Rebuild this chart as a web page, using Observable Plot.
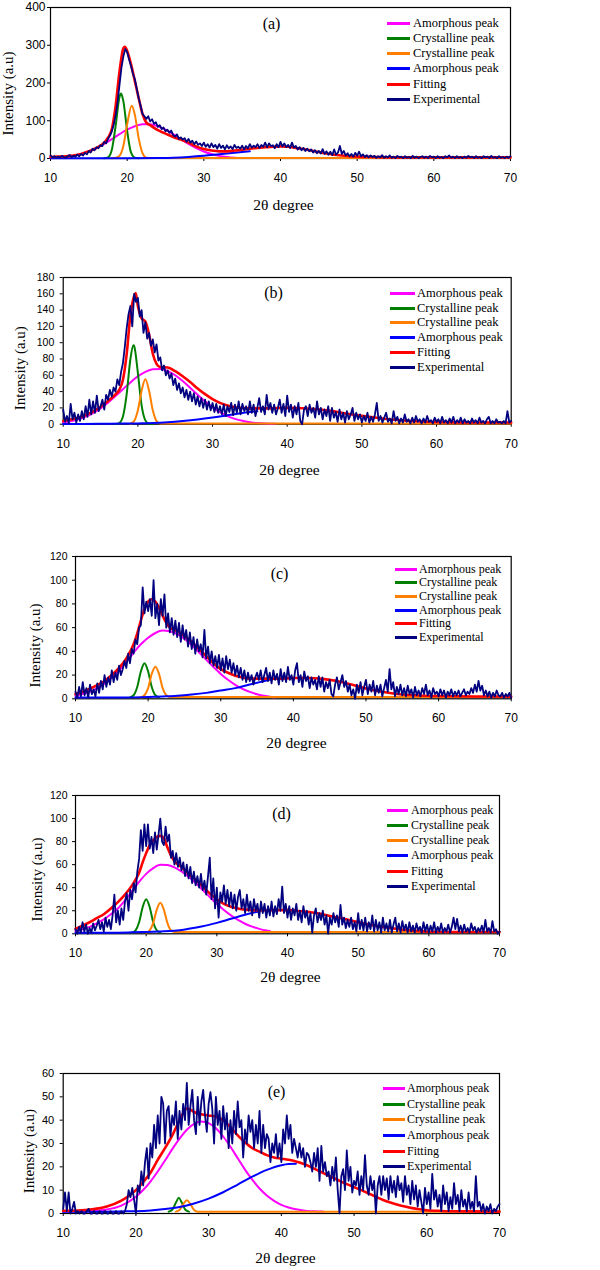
<!DOCTYPE html>
<html><head><meta charset="utf-8">
<script src="https://cdn.jsdelivr.net/npm/d3@7"></script>
<script src="https://cdn.jsdelivr.net/npm/@observablehq/plot@0.6"></script>
<style>
body{margin:0;background:#fff;}
#chart{position:relative;width:600px;height:1270px;overflow:hidden;background:#fff;}
.panel{position:absolute;left:0;}
.legend-row{position:absolute;display:flex;align-items:center;white-space:nowrap;height:16px;font-family:"Liberation Serif","Times New Roman",serif;color:#000;}
.swatch{display:inline-block;height:3px;margin-right:3px;}
</style>
</head><body>
<div id="chart"></div>
<script>
// ---------- shared ----------
const seriesNames = ["Amorphous peak","Crystalline peak","Crystalline peak","Amorphous peak","Fitting","Experimental"];
const seriesColors = ["#ff00ff","#008000","#ff8000","#0000ff","#ff0000","#000080"];
const xTicks = [10,20,30,40,50,60,70];
const twoTheta = d3.range(241).map(i => 10 + i * 0.25);
const panelLabels = ["(a)","(b)","(c)","(d)","(e)"];
const yMaxes = [400,180,120,120,60];
const yTicksA = [0,100,200,300,400];
const yTicksB = [0,20,40,60,80,100,120,140,160,180];
const yTicksC = [0,20,40,60,80,100,120];
const yTicksD = [0,20,40,60,80,100,120];
const yTicksE = [0,10,20,30,40,50,60];

// ---------- panel (a) ----------
const expA = [
8,3,6,2,5,3,7,4,2,6,9,4,7,5,10,6,12,8,15,11,
20,16,26,22,30,27,35,33,44,40,52,60,72,90,115,150,195,240,270,290,
282,262,245,225,210,185,160,140,118,112,105,112,98,104,92,96,84,88,78,82,
72,76,68,74,62,58,64,52,56,50,54,44,52,42,47,38,45,36,40,33,
42,31,38,29,40,30,36,26,38,28,34,24,35,27,32,25,36,28,31,26,
34,24,33,27,38,29,34,30,38,28,36,31,42,30,40,33,35,27,38,30,
44,32,40,30,36,28,42,29,33,24,30,22,28,20,26,19,24,16,22,14,
20,13,25,12,19,10,18,9,24,10,16,33,12,20,8,14,6,12,5,15,
7,18,6,11,4,9,3,8,4,7,2,6,3,9,2,6,3,8,2,5,
1,7,3,5,1,6,2,4,1,7,2,5,1,4,6,2,5,1,7,3,
5,1,6,2,4,1,6,3,8,2,5,1,6,2,4,1,5,2,7,3,
5,1,6,2,4,1,6,3,5,1,7,2,4,1,6,2,4,1,5,2,
6];
const fitA = [[10,4],[11,5],[12,6],[13,8],[14,12],[15,19],[16,28],[17,42],[17.5,55],[18,78],[18.5,140],[19,230],[19.5,292],[19.7,296],[20,285],[20.5,250],[21,205],[21.5,160],[22,118],[22.5,95],[23,88],[24,75],[25,66],[26,57],[27,50],[28,42],[29,32],[30,25],[31,21],[32,19],[33,19],[34,21],[35,23],[36,26],[37,28],[38,30],[39,31],[40,32],[41,31],[42,28],[43,25],[44,21],[45,17],[46,13],[47,10],[48,8],[49,6],[50,5],[52,4],[55,3],[60,3],[65,3],[70,3]];
const ampA1 = [[10,1.1],[11,2.1],[12,4],[13,7],[14,11.7],[15,18.5],[16,27.5],[17,38.6],[18,51.3],[19,64.3],[20,76.2],[21,85.4],[22,90.4],[23,90.4],[24,85.4],[25,76.2],[26,64.3],[27,51.3],[28,38.6],[29,27.5],[30,18.5],[31,11.7],[32,7],[33,4],[34,2.1],[35,1.1]];
const cryA1 = [[17,0.5],[17.5,3],[18,23],[18.5,87],[19,163],[19.2,172],[19.5,152],[20,73],[20.5,16],[21,2],[21.5,0.5]];
const cryA2 = [[18,0.5],[18.5,2],[19,7],[19.5,33],[20,91],[20.6,140],[21,116],[21.5,54],[22,14],[22.5,2],[23,1],[70,1]];
const ampA2 = [[10,0.5],[15,0.5],[20,0.6],[24,1.2],[26,2],[28,4],[30,7],[32,11],[34,15],[36,19]];

// ---------- panel (b) ----------
const expB = [
18,3,10,1,25,6,14,2,12,4,16,6,22,9,30,12,28,14,35,16,
22,30,18,36,30,42,34,45,40,55,48,64,75,95,118,135,145,120,160,150,
155,132,140,112,125,105,112,96,104,88,98,78,82,66,72,60,66,56,62,48,
56,42,50,38,45,33,42,30,40,28,38,24,34,22,32,20,30,18,28,17,
26,15,25,14,22,12,24,10,22,15,26,11,24,14,28,12,25,16,22,12,
28,14,24,10,20,32,15,22,12,36,18,26,14,24,12,20,30,14,25,10,
35,15,24,8,22,12,26,4,0,18,22,10,24,14,20,8,28,12,20,6,
18,10,22,4,20,8,15,3,18,6,14,2,16,6,12,20,4,14,6,12,
2,10,4,14,2,9,3,12,26,4,10,2,8,14,3,7,1,16,4,9,
1,7,2,12,3,6,1,8,2,10,3,6,1,7,2,10,3,5,1,8,
3,6,1,9,2,5,1,7,2,9,1,5,2,8,1,6,2,4,1,7,
2,5,1,8,2,4,1,6,9,1,4,1,6,2,3,1,4,1,16,2,
4];
const fitB = [[10,4],[11,5.7],[12,7.9],[13,11.2],[14,15.7],[15,21.4],[16,28.4],[17,36.6],[17.5,42],[18,54.5],[18.5,86],[19,134],[19.5,157],[19.7,161],[20,145],[20.5,130],[21,126],[21.5,110],[22,86.5],[22.5,74],[23,70],[24,69.6],[25,65],[26,58.8],[27,51.7],[28,43.9],[29,36.9],[30,30.9],[31,26.2],[32,23],[33,20.8],[34,19.8],[35,19.3],[36,19.4],[38,19.6],[40,20],[42,19.6],[44,18.3],[46,16],[48,12.9],[50,10.2],[52,7.8],[54,5.7],[56,4.3],[58,3.3],[60,2.8],[65,2.1],[70,2]];
const ampB1 = [[10,2.2],[11,3.7],[12,5.9],[13,9.2],[14,13.7],[15,19.4],[16,26.4],[17,34.5],[18,43],[19,51.3],[20,58.8],[21,64.3],[22,67.5],[23,67.8],[24,65.2],[25,60],[26,52.9],[27,44.7],[28,36.1],[29,28],[30,20.7],[31,14.7],[32,10],[33,6.5],[34,4.1],[35,2.5],[36,1.4],[37,0.8],[38.4,0.5]];
const cryB1 = [[17,0.1],[17.5,1.4],[18,9.5],[18.5,37],[19,80],[19.4,97],[19.5,96],[20,63],[20.5,23],[21,4.7],[21.5,0.5],[22,0.3]];
const cryB2 = [[19,0.5],[19.5,3.8],[20,17],[20.5,41],[21,55],[21.5,41],[22,17],[22.5,3.8],[23,0.8],[23.5,0.8],[70,0.8]];
const ampB2 = [[10,0.3],[15,0.4],[18,0.7],[20,1],[22,1.4],[24,2.4],[26,3.9],[28,5.8],[30,8.2],[32,11],[34,13.7],[36,16]];

// ---------- panel (c) ----------
const expC = [
6,1,10,2,14,3,9,1,12,4,8,2,13,5,15,8,20,10,18,12,
24,14,22,16,28,20,25,32,26,38,30,42,38,50,46,60,62,94,72,82,
74,84,70,100,68,80,62,84,70,88,60,72,56,68,54,66,52,64,48,62,
50,58,44,56,42,52,38,50,40,46,35,58,34,44,30,40,28,36,26,37,
24,34,22,36,25,33,22,30,20,28,18,26,16,24,14,22,15,20,12,18,
22,16,24,14,20,26,15,22,13,24,16,21,12,25,15,22,14,27,16,20,
12,24,30,14,20,10,23,15,19,9,18,12,16,8,19,10,18,6,14,9,
16,4,2,12,18,8,14,20,10,15,6,12,3,8,0,12,5,14,3,10,
16,4,12,6,15,3,11,5,12,2,9,16,6,25,8,14,2,10,4,12,
3,9,2,11,4,8,1,10,3,7,2,9,4,12,3,7,1,9,4,6,
2,8,3,7,1,6,3,8,2,6,3,7,2,5,8,3,6,4,9,5,
12,6,15,7,11,3,7,2,6,1,5,2,7,3,2,5,1,4,2,5,
1];
const fitC = [[10,4],[11,6],[12,8.5],[13,11.5],[14,15],[15,20],[16,26],[17,34],[18,46],[18.5,55],[19,66],[19.5,76],[20,82],[20.5,84],[21,82],[21.5,77],[22,70],[22.5,64],[23,60],[24,57],[25,53],[26,48],[27,42],[28,36],[29,30],[30,25],[31,22],[32,19.5],[33,18],[34,17],[36,17],[38,17],[40,17.5],[42,17.5],[44,16.8],[46,15],[48,12],[50,8.7],[52,6.2],[54,4.3],[56,3.2],[58,2.6],[60,2.3],[65,2],[70,2]];
const ampC1 = [[10,2.5],[11,4],[12,6],[13,9],[14,13],[15,18],[16,24],[17,31],[18,39],[19,46],[20,51.5],[21,55.5],[22,57.5],[23,57],[24,54.6],[25,50.6],[26,45.3],[27,39.3],[28,33],[29,26.8],[30,21],[31,16],[32,11.7],[33,8.3],[34,5.8],[35,3.8],[36,2.5],[37,1.5],[37.5,1.2]];
const cryC1 = [[17.5,1.2],[18,3],[18.5,10],[19,23],[19.5,30],[20,23],[20.5,10],[21,3],[21.5,1.2]];
const cryC2 = [[19,1.2],[19.5,3],[20,9],[20.5,21],[21,27],[21.5,21],[22,9],[22.5,3],[23,1.5],[70,1.5]];
const ampC2 = [[10,1],[15,1],[18,1.2],[20,1.5],[22,2],[24,2.6],[26,3.6],[28,5],[30,7],[32,9],[34,12],[36,15],[37,16.5]];

// ---------- panel (d) ----------
const expD = [
4,0,6,1,10,2,8,0,5,1,9,3,7,12,4,10,2,14,6,12,
4,16,34,10,20,8,22,12,28,35,20,38,30,44,36,54,65,90,72,95,
76,95,74,84,70,88,73,86,100,80,77,93,80,86,66,72,60,70,58,66,
55,62,50,60,48,58,44,54,42,50,40,52,38,46,34,50,66,30,48,22,
40,14,36,28,42,26,38,24,36,22,34,20,32,38,22,30,18,34,20,28,
16,30,20,26,14,28,18,26,14,24,16,28,15,24,17,30,20,41,18,26,
14,24,12,22,16,26,12,20,10,24,14,20,8,18,1,16,22,10,18,12,
20,8,16,0,14,8,18,10,16,6,25,8,14,5,12,6,14,4,10,2,
18,4,12,3,14,2,10,4,16,2,12,3,10,1,14,3,9,2,12,1,
8,14,2,9,1,11,3,8,1,10,2,7,1,9,3,6,1,10,2,8,
1,7,2,10,1,6,2,9,1,5,2,8,1,6,14,4,13,2,7,1,
8,2,5,1,9,3,6,1,5,2,7,1,12,2,5,1,11,2,4,0,
2];
const fitD = [[10,4.3],[11,7],[12,10],[13,13.5],[14,17],[15,22],[16,27.5],[17,34],[18,42],[18.5,47],[19,53],[19.5,62],[20,70],[20.5,77],[21,81],[21.5,84],[22,85],[22.5,83],[23,75],[23.5,68],[24,63],[25,58],[26,52],[27,47],[28,41],[29,35],[30,30],[31,26],[32,23.5],[33,22],[34,21],[35,20.5],[36,20.3],[38,20.5],[40,20.5],[42,19.5],[44,18],[45,17],[46,15.5],[48,13],[50,10],[52,7.5],[54,5.4],[56,3.7],[58,2.5],[60,1.8],[65,1.5],[70,1.5]];
const ampD1 = [[10,2.5],[11,4],[12,6],[13,9],[14,12.5],[15,17],[16,22],[17,29],[18,37],[19,45],[20,52],[21,57],[22,60],[23,59.6],[24,57.6],[25,54.1],[26,49.5],[27,44],[28,38],[29,31.9],[30,26],[31,20.7],[32,16],[33,12],[34,8.7],[35,6.2],[36,4.3],[37,2.9],[37.5,2.4]];
const cryD1 = [[18,1],[18.5,3],[19,10],[19.5,23],[20,30],[20.5,23],[21,10],[21.5,3],[22,1.2]];
const cryD2 = [[20,1],[20.5,3],[21,9.5],[21.5,21],[22,27],[22.5,21],[23,9.5],[23.5,3],[24,1.5],[70,1.5]];
const ampD2 = [[10,1],[15,1],[18,1.3],[20,1.6],[22,2],[24,2.6],[26,4.3],[28,6.5],[30,9.5],[32,13],[34,16.5],[36,19.5]];

// ---------- panel (e) ----------
const expE = [
2,9,1,9,0,2,5,0,1,0,1,0,0,1,2,0,0,1,0,0,
1,0,0,1,0,0,1,0,0,1,0,0,1,0,1,4,10,7,11,6,
0,12,9,18,12,22,28,15,30,24,38,28,42,30,50,47,30,44,46,33,
42,38,48,32,44,36,47,40,56,38,46,53,40,34,50,38,48,53,42,35,
47,52,45,30,50,38,44,32,46,36,43,28,40,30,44,34,48,37,40,24,
36,30,42,35,40,28,38,30,44,26,38,28,34,32,22,30,26,34,24,30,
22,36,30,42,32,38,26,32,28,24,30,24,28,20,26,25,22,18,26,20,
28,14,29,18,22,16,18,12,20,14,24,10,0,16,19,10,27,14,20,9,
14,12,18,8,16,10,25,12,8,16,10,14,0,12,16,8,16,10,15,6,
16,9,14,7,16,10,13,5,16,8,12,4,14,6,12,3,10,5,0,11,
4,9,2,17,6,10,3,8,1,12,4,9,1,7,2,13,4,8,1,10,
3,6,1,9,2,5,1,16,3,5,1,4,0,3,1,4,0,2,1,3,
4];
const fitE = [[10,1.2],[12,1.3],[14,1.8],[16,3],[18,5.5],[19,7.5],[20,10],[21,13.5],[22,17.5],[23,23],[24,28],[25,33.5],[26,40],[26.5,43],[27,45],[27.5,44.5],[28,43.5],[29,42.5],[30,42],[31,41.5],[32,40],[33,37],[34,33.5],[35,30.5],[36,28],[37,26.5],[38,25],[39,24],[40,23.5],[41,23],[42,22.3],[43,21.3],[44,20],[45,18.5],[46,17],[47,15.5],[48,14],[49,12.6],[50,11.3],[51,10],[52,8.6],[53,7.2],[54,5.8],[55,4.7],[56,3.8],[57,3],[58,2.3],[59,1.8],[60,1.4],[62,1.1],[65,0.9],[70,0.8]];
const ampE1 = [[10,0.8],[14,1.1],[16,1.7],[18,3.4],[20,7.2],[21,10.1],[22,13.7],[23,18],[24,22.7],[25,27.6],[26,32.1],[27,35.9],[28,38.4],[29,39.4],[30,38.7],[31,36.5],[32,33],[33,28.6],[34,23.7],[35,18.8],[36,14.5],[37,10.7],[38,7.7],[39,5.4],[40,3.7],[41,2.6],[42,1.8],[43,1.3],[44,1],[45,0.9],[45.8,0.8]];
const cryE1 = [[24.5,0.8],[25,1.6],[25.5,4.7],[25.9,6.7],[26.3,4.7],[26.8,1.6],[27.3,0.8]];
const cryE2 = [[25.5,0.8],[26,1.5],[26.5,4],[27,5.7],[27.5,4],[28,1.5],[28.5,0.8],[70,0.8]];
const ampE2 = [[10,0.8],[15,0.8],[18,0.9],[20,1],[22,1.3],[24,1.9],[26,2.8],[28,4.3],[30,6.4],[32,9.1],[34,12.4],[36,15.8],[38,18.7],[40,20.7],[41,21.2],[42,21.3]];

// ---------- layout (page pixels) ----------
const layout = [
 {top:7, bottom:158, left:50, right:510, mt:7, yFont:12, yPad:2, ylab:[8,93,102], title:[283,205], tag:[271,23], leg:{sx:387, sw:23, tx:413, y0:23.3, dy:15.2, fs:12.5}},
 {top:277.3, bottom:424, left:62.7, right:510.7, mt:8, yFont:10.5, yPad:6, ylab:[20,368,63], title:[289,470], tag:[273,293], leg:{sx:390, sw:25, tx:417, y0:293.3, dy:14.8, fs:12.5}},
 {top:556, bottom:698.3, left:75, right:510.7, mt:8, yFont:10.5, yPad:5, ylab:[35,645,64], title:[296,743], tag:[279,573], leg:{sx:395, sw:22, tx:419, y0:569, dy:13.7, fs:12}},
 {top:795, bottom:933.3, left:75, right:499, mt:8, yFont:10.5, yPad:5, ylab:[37,879,62], title:[290,977], tag:[281,813], leg:{sx:387, sw:21, tx:411, y0:810, dy:15.3, fs:12}},
 {top:1073.3, bottom:1213.3, left:62.7, right:499, mt:8, yFont:11, yPad:6, ylab:[28.5,1151,92], title:[285,1258], tag:[276,1091.7], leg:{sx:383, sw:22, tx:407, y0:1088.3, dy:15.7, fs:12}}
];

const panels = [
 {exp: expA, fit: fitA, comps: [ampA1, cryA1, cryA2, ampA2], yTicks: yTicksA},
 {exp: expB, fit: fitB, comps: [ampB1, cryB1, cryB2, ampB2], yTicks: yTicksB},
 {exp: expC, fit: fitC, comps: [ampC1, cryC1, cryC2, ampC2], yTicks: yTicksC},
 {exp: expD, fit: fitD, comps: [ampD1, cryD1, cryD2, ampD2], yTicks: yTicksD},
 {exp: expE, fit: fitE, comps: [ampE1, cryE1, cryE2, ampE2], yTicks: yTicksE}
];

const serif = '"Liberation Serif","Times New Roman",serif';
const chart = document.getElementById("chart");

panels.forEach((p, k) => {
  const L = layout[k];
  const mb = 62;
  const svgTop = L.top - L.mt;
  const H = L.mt + (L.bottom - L.top) + mb;
  const midY = (L.top + L.bottom) / 2;
  const midX = (L.left + L.right) / 2;
  const compMarks = p.comps.map((c, j) =>
    Plot.line(c, {x: d => d[0], y: d => d[1], stroke: seriesColors[j], strokeWidth: 2, curve: "monotone-x"}));
  const svg = Plot.plot({
    width: 600, height: H,
    marginLeft: L.left, marginRight: 600 - L.right, marginTop: L.mt, marginBottom: mb,
    style: {fontFamily: '"Liberation Sans", Arial, sans-serif', fontSize: "12px", color: "#000", background: "none", overflow: "visible"},
    x: {domain: [10, 70], ticks: xTicks, tickSize: 3, tickPadding: 12, label: null},
    y: {domain: [0, yMaxes[k]], ticks: p.yTicks, tickSize: 3, tickPadding: L.yPad, label: null},
    marks: [
      Plot.frame({stroke: "#000", strokeWidth: 1.2}),
      ...compMarks,
      Plot.line(p.fit, {x: d => d[0], y: d => d[1], stroke: seriesColors[4], strokeWidth: 2.6, curve: "monotone-x"}),
      Plot.line(p.exp, {x: (d, i) => twoTheta[i], y: d => d, stroke: seriesColors[5], strokeWidth: 1.8}),
      Plot.text(["Intensity (a.u)"], {frameAnchor: "left", dx: L.ylab[0] - L.left, dy: L.ylab[1] - midY, rotate: -90,
        textAnchor: "middle", lineAnchor: "middle", fontFamily: serif, fontSize: 15, fill: "#000", ariaLabel: "ylabel"}),
      Plot.text(["2θ degree"], {frameAnchor: "bottom", dx: L.title[0] - midX, dy: L.title[1] - L.bottom,
        textAnchor: "middle", lineAnchor: "middle", fontFamily: serif, fontSize: 15.5, fill: "#000"}),
      Plot.text([panelLabels[k]], {frameAnchor: "top-left", dx: L.tag[0] - L.left, dy: L.tag[1] - L.top,
        textAnchor: "middle", lineAnchor: "middle", fontFamily: serif, fontSize: 16, fill: "#000"})
    ]
  });
  svg.classList.add("panel");
  svg.style.top = svgTop + "px";
  svg.style.left = "0px";
  svg.style.position = "absolute";
  d3.select(svg).selectAll('g[aria-label^="y-axis"] text').style("font-size", L.yFont + "px");
  d3.select(svg).selectAll('g[aria-label="ylabel"] text')
    .attr("textLength", L.ylab[2]).attr("lengthAdjust", "spacingAndGlyphs");
  chart.appendChild(svg);

  // legend
  seriesNames.forEach((name, j) => {
    const row = document.createElement("div");
    row.className = "legend-row";
    row.style.left = L.leg.sx + "px";
    row.style.top = (L.leg.y0 + j * L.leg.dy - 8) + "px";
    row.style.fontSize = L.leg.fs + "px";
    const sw = document.createElement("span");
    sw.className = "swatch";
    sw.style.width = L.leg.sw + "px";
    sw.style.marginRight = (L.leg.tx - L.leg.sx - L.leg.sw) + "px";
    sw.style.background = seriesColors[j];
    const tx = document.createElement("span");
    tx.textContent = name;
    row.appendChild(sw);
    row.appendChild(tx);
    chart.appendChild(row);
  });
});
</script>
</body></html>
